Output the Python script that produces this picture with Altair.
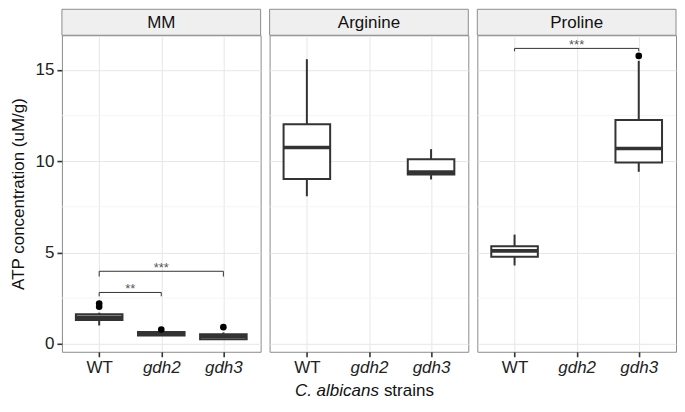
import json
import altair as alt
import pandas as pd

# ---------------- data ----------------
panels = ["MM", "Arginine", "Proline"]
strains = ["WT", "gdh2", "gdh3"]

box_panel = ["MM", "MM", "MM", "Arginine", "Arginine", "Proline", "Proline"]
box_strain = ["WT", "gdh2", "gdh3", "WT", "gdh3", "WT", "gdh3"]
whisk_lo = [1.00, 0.44, 0.24, 8.08, 9.00, 4.29, 9.42]
q1 = [1.30, 0.45, 0.25, 9.02, 9.27, 4.77, 9.93]
med = [1.45, 0.55, 0.40, 10.75, 9.40, 5.09, 10.70]
q3 = [1.62, 0.64, 0.52, 12.03, 10.11, 5.34, 12.26]
whisk_hi = [1.70, 0.68, 0.62, 15.59, 10.66, 5.98, 15.50]

out_panel = ["MM", "MM", "MM", "MM", "Proline"]
out_strain = ["WT", "WT", "gdh2", "gdh3", "gdh3"]
out_value = [2.20, 2.03, 0.78, 0.91, 15.77]

br_panel = ["MM", "MM", "Proline"]
br_from = ["WT", "WT", "WT"]
br_to = ["gdh2", "gdh3", "gdh3"]
br_y = [2.81, 3.97, 16.18]
br_end = [2.60, 3.68, 16.02]
br_label = ["**", "***", "***"]

y_major = [0, 5, 10, 15]
y_minor = [2.5, 7.5, 12.5]
x_title_italic = "C. albicans"
x_title_plain = "strains"
y_title = "ATP concentration (uM/g)"

# ---------------- tables ----------------
pos = {s: i + 1 for i, s in enumerate(strains)}
HALF = 0.375

box_df = pd.DataFrame({
    "panel": box_panel, "strain": box_strain,
    "lo": whisk_lo, "q1": q1, "med": med, "q3": q3, "hi": whisk_hi,
})
box_df["pos"] = box_df["strain"].map(pos)
box_df["xl"] = box_df["pos"] - HALF
box_df["xr"] = box_df["pos"] + HALF

out_df = pd.DataFrame({"panel": out_panel, "strain": out_strain, "value": out_value})
out_df["pos"] = out_df["strain"].map(pos)

br_df = pd.DataFrame({"panel": br_panel, "a": br_from, "b": br_to,
                      "y": br_y, "yend": br_end, "label": br_label})
br_df["xa"] = br_df["a"].map(pos)
br_df["xb"] = br_df["b"].map(pos)
br_df["xm"] = (br_df["xa"] + br_df["xb"]) / 2

W = 199
H = 317
S = 26
FONT = "Liberation Sans"
DARK = "#333333"
FS = 17

xscale = alt.Scale(domain=[0.4, 3.6], nice=False, zero=False)
yscale = alt.Scale(domain=[-0.44, 16.9], nice=False, zero=False)

label_expr = json.dumps(strains) + "[datum.value - 1]"


def make_panel(name, idx):
    show_y = idx == 0
    xaxis = alt.Axis(values=[1, 2, 3], labelExpr=label_expr, title=None,
                     labelFontStyle={"expr": "datum.value == 1 ? 'normal' : 'italic'"},
                     labelFontSize=FS, labelColor="#222222", labelPadding=3,
                     tickSize=5, tickWidth=1.6, tickColor=DARK, domain=False,
                     grid=True, gridColor="#e6e6e6", gridWidth=1)
    if show_y:
        yaxis = alt.Axis(values=y_major, title=y_title, titleFontSize=FS,
                         titleFontWeight="normal", titleColor="#111111", titlePadding=8,
                         labelFontSize=FS, labelColor="#222222", labelPadding=3,
                         tickSize=5, tickWidth=1.6, tickColor=DARK, domain=False,
                         grid=True, gridColor="#e6e6e6", gridWidth=1)
    else:
        yaxis = alt.Axis(values=y_major, title=None, labels=False, ticks=False,
                         domain=False, grid=True, gridColor="#e6e6e6", gridWidth=1)

    bx = box_df[box_df.panel == name]
    ot = out_df[out_df.panel == name]
    br = br_df[br_df.panel == name]

    minor = alt.Chart(pd.DataFrame({"v": y_minor})).mark_rule(
        color="#f3f3f3", strokeWidth=0.8).encode(
        y=alt.Y("v:Q", scale=yscale, axis=yaxis))

    base = alt.Chart(bx)
    whisk = base.mark_rule(color=DARK, strokeWidth=2).encode(
        x=alt.X("pos:Q", scale=xscale, axis=xaxis),
        y=alt.Y("lo:Q", scale=yscale), y2="hi:Q")
    boxes = base.mark_rect(fill="white", stroke=DARK, strokeWidth=2).encode(
        x=alt.X("xl:Q", scale=xscale), x2="xr:Q",
        y=alt.Y("q1:Q", scale=yscale), y2="q3:Q")
    medians = base.mark_rule(color=DARK, strokeWidth=3.6).encode(
        x=alt.X("xl:Q", scale=xscale), x2="xr:Q",
        y=alt.Y("med:Q", scale=yscale))

    layers = [minor, whisk, boxes, medians]

    if len(ot):
        layers.append(alt.Chart(ot).mark_circle(size=44, color="black", opacity=1).encode(
            x=alt.X("pos:Q", scale=xscale), y=alt.Y("value:Q", scale=yscale)))

    if len(br):
        bb = alt.Chart(br)
        layers += [
            bb.mark_rule(color=DARK, strokeWidth=1).encode(
                x=alt.X("xa:Q", scale=xscale), x2="xb:Q", y=alt.Y("y:Q", scale=yscale)),
            bb.mark_rule(color=DARK, strokeWidth=1).encode(
                x=alt.X("xa:Q", scale=xscale), y=alt.Y("y:Q", scale=yscale), y2="yend:Q"),
            bb.mark_rule(color=DARK, strokeWidth=1).encode(
                x=alt.X("xb:Q", scale=xscale), y=alt.Y("y:Q", scale=yscale), y2="yend:Q"),
            bb.mark_text(fontSize=13, color="#555555", baseline="alphabetic", dy=1,
                         font=FONT).encode(
                x=alt.X("xm:Q", scale=xscale), y=alt.Y("y:Q", scale=yscale), text="label:N"),
        ]

    strip_df = pd.DataFrame({"name": [name]})
    strip = alt.Chart(strip_df)
    layers += [
        strip.mark_rect(fill="#efefef", stroke="#8c8c8c", strokeWidth=1).encode(
            x=alt.value(0), x2=alt.value(W), y=alt.value(-S), y2=alt.value(0)),
        strip.mark_text(fontSize=FS, color="#111111", font=FONT, baseline="middle").encode(
            x=alt.value(W / 2), y=alt.value(-S / 2 + 1), text="name:N"),
    ]

    if idx == 1:
        split = W * 0.555
        layers += [
            alt.Chart(pd.DataFrame({"t": [x_title_italic]})).mark_text(
                fontSize=FS, fontStyle="italic", align="right", baseline="middle",
                font=FONT, color="#111111").encode(
                x=alt.value(split - 1), y=alt.value(H + 39), text="t:N"),
            alt.Chart(pd.DataFrame({"t": [x_title_plain]})).mark_text(
                fontSize=FS, align="left", baseline="middle",
                font=FONT, color="#111111").encode(
                x=alt.value(split + 4), y=alt.value(H + 39), text="t:N"),
        ]

    return alt.layer(*layers).properties(width=W, height=H)


chart = alt.hconcat(*[make_panel(p, i) for i, p in enumerate(panels)], spacing=7).properties(
    padding=0
).configure(font=FONT).configure_view(stroke="#8c8c8c", strokeWidth=1, fill="white")

chart.save("out.html", embed_options={"renderer": "svg", "actions": False})
